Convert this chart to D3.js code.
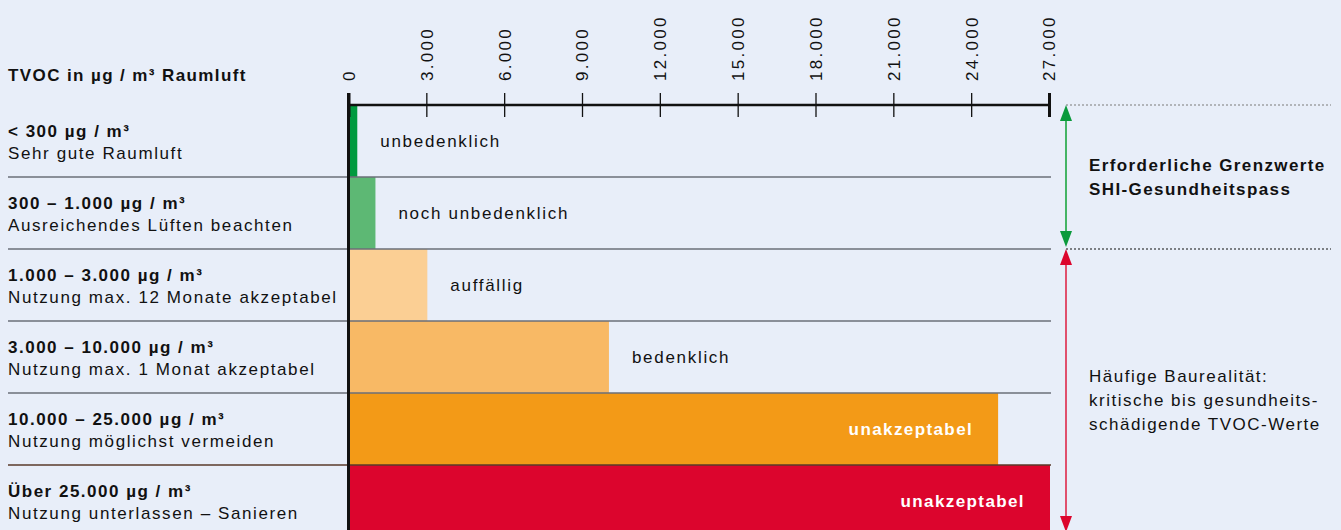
<!DOCTYPE html>
<html lang="de">
<head>
<meta charset="utf-8">
<title>TVOC in Raumluft</title>
<script src="https://cdn.jsdelivr.net/npm/d3@7"></script>
<style>
  body { margin: 0; background: #e8eef9; }
  svg { display: block; font-family: "Liberation Sans", Arial, sans-serif; }
</style>
</head>
<body>
<div id="chart"></div>
<script>
// Categories (rows)
const rangeLabels = [
    "< 300 µg / m³",
    "300 – 1.000 µg / m³",
    "1.000 – 3.000 µg / m³",
    "3.000 – 10.000 µg / m³",
    "10.000 – 25.000 µg / m³",
    "Über 25.000 µg / m³"
];
const usageLabels = [
    "Sehr gute Raumluft",
    "Ausreichendes Lüften beachten",
    "Nutzung max. 12 Monate akzeptabel",
    "Nutzung max. 1 Monat akzeptabel",
    "Nutzung möglichst vermeiden",
    "Nutzung unterlassen – Sanieren"
];
const ratings = ["unbedenklich", "noch unbedenklich", "auffällig", "bedenklich", "unakzeptabel", "unakzeptabel"];
// upper limit of each class in µg / m³
const values = [300, 1000, 3000, 10000, 25000, 27000];
const barColors = ["#009a3e", "#5db874", "#fbcf94", "#f8b965", "#f39a17", "#dc052d"];

// Axis
const tickValues = [0, 3000, 6000, 9000, 12000, 15000, 18000, 21000, 24000, 27000];
const tickLabels = ["0", "3.000", "6.000", "9.000", "12.000", "15.000", "18.000", "21.000", "24.000", "27.000"];

// Right-hand brackets: rows covered
const brackets = [
    { from: 0, to: 1, lines: ["Erforderliche Grenzwerte", "SHI-Gesundheitspass"], bold: true },
    { from: 2, to: 5, lines: ["Häufige Baurealität:", "kritische bis gesundheits-", "schädigende TVOC-Werte"], bold: false }
];

function renderChart() {
    const width = 1341, height = 530;
    const axisY = 105, rowH = 72;

    const svg = d3.select("#chart")
        .append("svg")
        .attr("width", width)
        .attr("height", height);

    svg.append("rect")
        .attr("width", width)
        .attr("height", height)
        .attr("fill", "#e8eef9");

    const x = d3.scaleLinear()
        .domain([0, 27000])
        .range([348.5, 1049]);

    const y = d3.scaleBand()
        .domain(d3.range(values.length))
        .range([axisY, axisY + rowH * values.length]);

    // Bars
    svg.selectAll(".bar")
        .data(values)
        .join("rect")
        .attr("class", "bar")
        .attr("x", x(0))
        .attr("y", (d, i) => y(i))
        .attr("width", d => x(d) - x(0) + 1)
        .attr("height", y.bandwidth())
        .attr("fill", (d, i) => barColors[i]);

    // Row separators (drawn over the bars)
    svg.selectAll(".sep")
        .data(d3.range(1, values.length))
        .join("line")
        .attr("class", "sep")
        .attr("x1", 8)
        .attr("x2", x(27000) + 2)
        .attr("y1", i => y(i))
        .attr("y2", i => y(i))
        .attr("stroke", i => i === 5 ? "#5a3a2a" : "#6b6f78")
        .attr("stroke-width", 1.5);

    // Left labels
    const left = svg.selectAll(".rowlabel")
        .data(d3.range(values.length))
        .join("g")
        .attr("class", "rowlabel")
        .attr("transform", i => `translate(8,${y(i)})`);

    left.append("text")
        .attr("y", 32)
        .attr("font-size", 17)
        .attr("font-weight", "bold")
        .attr("letter-spacing", 1.5)
        .attr("fill", "#111")
        .text(i => rangeLabels[i]);

    left.append("text")
        .attr("y", 54)
        .attr("font-size", 17)
        .attr("letter-spacing", 1.6)
        .attr("fill", "#111")
        .text(i => usageLabels[i]);

    // Labels next to / inside bars
    svg.selectAll(".rating")
        .data(values)
        .join("text")
        .attr("class", "rating")
        .attr("x", (d, i) => i >= 4 ? x(d) - 24 : x(d) + 24)
        .attr("y", (d, i) => y(i) + y.bandwidth() / 2)
        .attr("dy", "0.35em")
        .attr("text-anchor", (d, i) => i >= 4 ? "end" : "start")
        .attr("font-size", 17)
        .attr("font-weight", (d, i) => i >= 4 ? "bold" : "normal")
        .attr("letter-spacing", (d, i) => i >= 4 ? 1.4 : 1.7)
        .attr("fill", (d, i) => i >= 4 ? "#fff" : "#111")
        .text((d, i) => ratings[i]);

    // Header
    svg.append("text")
        .attr("x", 8)
        .attr("y", 81)
        .attr("font-size", 17)
        .attr("font-weight", "bold")
        .attr("letter-spacing", 1.4)
        .attr("fill", "#111")
        .text("TVOC in µg / m³ Raumluft");

    // Top axis
    const axis = svg.append("g")
        .attr("transform", `translate(0,${axisY})`)
        .call(d3.axisTop(x).tickValues(tickValues).tickSize(12).tickFormat((d, i) => tickLabels[i]));

    axis.select(".domain").remove();
    axis.selectAll(".tick line")
        .attr("y1", 12)
        .attr("y2", -12)
        .attr("stroke", "#111")
        .attr("stroke-width", (d, i) => (i === 0 || i === tickValues.length - 1) ? 3 : 1.3);
    axis.selectAll(".tick text")
        .attr("transform", "translate(0,-24) rotate(-90)")
        .attr("x", 0)
        .attr("y", 0)
        .attr("dy", "0.35em")
        .attr("text-anchor", "start")
        .attr("font-family", "'Liberation Sans', Arial, sans-serif")
        .attr("font-size", 17)
        .attr("letter-spacing", 2.3)
        .attr("fill", "#111");

    axis.append("line")
        .attr("x1", x(0) - 1)
        .attr("x2", x(27000))
        .attr("stroke", "#111")
        .attr("stroke-width", 2.5);

    // zero line down through the rows
    svg.append("line")
        .attr("x1", x(0))
        .attr("x2", x(0))
        .attr("y1", axisY - 12)
        .attr("y2", height)
        .attr("stroke", "#111")
        .attr("stroke-width", 3);

    // Right brackets
    const ax = 1066;
    const headW = 6, headH = 16;
    const colorsLine = ["#45b465", "#e0506d"];
    const colorsHead = ["#0a9a3c", "#dc052d"];

    brackets.forEach((b, k) => {
        const top = y(b.from);
        const bottom = b.to === values.length - 1 ? height + 4 : y(b.to) + y.bandwidth();

        svg.append("line")
            .attr("x1", ax).attr("x2", width - 10)
            .attr("y1", top).attr("y2", top)
            .attr("stroke", k === 0 ? "#7a7a7a" : "#111")
            .attr("stroke-width", 1.2)
            .attr("stroke-dasharray", "2,2");

        svg.append("line")
            .attr("x1", ax).attr("x2", ax)
            .attr("y1", top + 8).attr("y2", bottom - 8)
            .attr("stroke", colorsLine[k])
            .attr("stroke-width", 2);

        svg.append("path")
            .attr("d", `M${ax},${top} L${ax - headW},${top + headH} L${ax + headW},${top + headH} Z`)
            .attr("fill", colorsHead[k]);
        svg.append("path")
            .attr("d", `M${ax},${bottom - 2} L${ax - headW},${bottom - 2 - headH} L${ax + headW},${bottom - 2 - headH} Z`)
            .attr("fill", colorsHead[k]);

        const lineH = 24;
        const midY = k === 0 ? (top + y(b.to) + y.bandwidth()) / 2 : 400;
        const t = svg.append("text")
            .attr("x", 1089)
            .attr("y", midY - (b.lines.length - 1) * lineH / 2)
            .attr("dy", "0.35em")
            .attr("font-size", 17)
            .attr("font-weight", b.bold ? "bold" : "normal")
            .attr("letter-spacing", b.bold ? 1.4 : 1.5)
            .attr("fill", "#111");
        b.lines.forEach((l, j) => {
            t.append("tspan")
                .attr("x", 1089)
                .attr("dy", j === 0 ? "0.35em" : lineH)
                .text(l);
        });
    });
}

document.addEventListener("DOMContentLoaded", renderChart);
</script>
</body>
</html>
